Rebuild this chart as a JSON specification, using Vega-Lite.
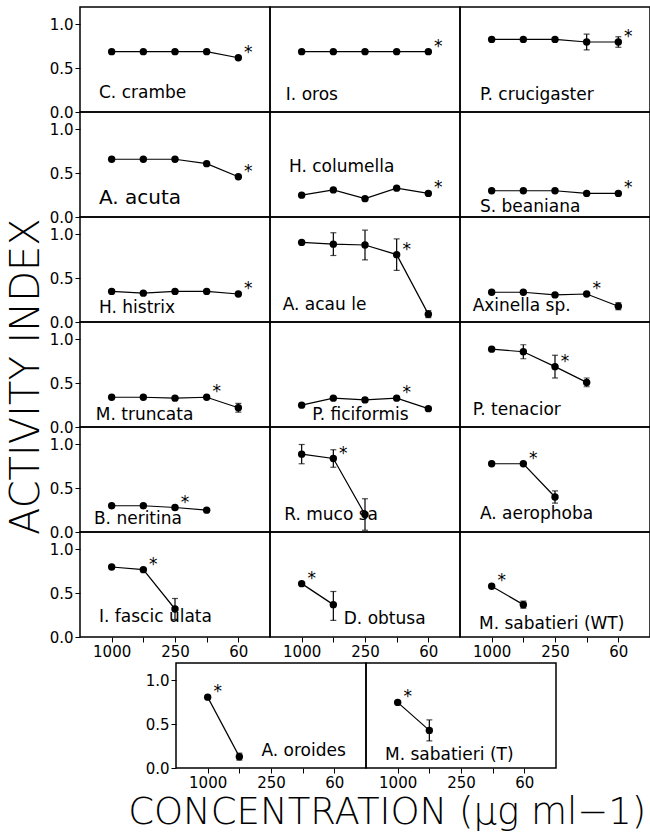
{
  "$schema": "https://vega.github.io/schema/vega-lite/v6.json",
  "background": "white",
  "padding": {"left": 7, "top": 6, "right": 0, "bottom": 0},
  "title": {"text": "ACTIVITY INDEX", "orient": "left", "anchor": "middle", "fontSize": 40, "font": "DejaVu Sans", "fontWeight": 200, "color": "black", "offset": 2, "dx": 42},
  "datasets": {"d": [
    {"g":"t","r":1,"c":1,"k":"p","x":1000,"y":0.69},
    {"g":"t","r":1,"c":1,"k":"p","x":500,"y":0.69},
    {"g":"t","r":1,"c":1,"k":"p","x":250,"y":0.69},
    {"g":"t","r":1,"c":1,"k":"p","x":125,"y":0.69},
    {"g":"t","r":1,"c":1,"k":"p","x":62.5,"y":0.62,"st":1},
    {"g":"t","r":1,"c":1,"k":"l","x":1320,"y":0.22,"t":"C. crambe"},
    {"g":"t","r":1,"c":2,"k":"p","x":1000,"y":0.69},
    {"g":"t","r":1,"c":2,"k":"p","x":500,"y":0.69},
    {"g":"t","r":1,"c":2,"k":"p","x":250,"y":0.69},
    {"g":"t","r":1,"c":2,"k":"p","x":125,"y":0.69},
    {"g":"t","r":1,"c":2,"k":"p","x":62.5,"y":0.69,"st":1},
    {"g":"t","r":1,"c":2,"k":"l","x":1414,"y":0.2,"t":"I. oros"},
    {"g":"t","r":1,"c":3,"k":"p","x":1000,"y":0.83},
    {"g":"t","r":1,"c":3,"k":"p","x":500,"y":0.83},
    {"g":"t","r":1,"c":3,"k":"p","x":250,"y":0.83},
    {"g":"t","r":1,"c":3,"k":"p","x":125,"y":0.8,"lo":0.71,"hi":0.89},
    {"g":"t","r":1,"c":3,"k":"p","x":62.5,"y":0.8,"lo":0.74,"hi":0.86,"st":1},
    {"g":"t","r":1,"c":3,"k":"l","x":1292,"y":0.19,"t":"P. crucigaster"},
    {"g":"t","r":2,"c":1,"k":"p","x":1000,"y":0.66},
    {"g":"t","r":2,"c":1,"k":"p","x":500,"y":0.66},
    {"g":"t","r":2,"c":1,"k":"p","x":250,"y":0.66},
    {"g":"t","r":2,"c":1,"k":"p","x":125,"y":0.61},
    {"g":"t","r":2,"c":1,"k":"p","x":62.5,"y":0.46,"st":1},
    {"g":"t","r":2,"c":1,"k":"l","x":1320,"y":0.22,"t":"A. acuta"},
    {"g":"t","r":2,"c":2,"k":"p","x":1000,"y":0.25},
    {"g":"t","r":2,"c":2,"k":"p","x":500,"y":0.31},
    {"g":"t","r":2,"c":2,"k":"p","x":250,"y":0.21},
    {"g":"t","r":2,"c":2,"k":"p","x":125,"y":0.33},
    {"g":"t","r":2,"c":2,"k":"p","x":62.5,"y":0.27,"st":1},
    {"g":"t","r":2,"c":2,"k":"l","x":1320,"y":0.57,"t":"H. columella"},
    {"g":"t","r":2,"c":3,"k":"p","x":1000,"y":0.3},
    {"g":"t","r":2,"c":3,"k":"p","x":500,"y":0.3},
    {"g":"t","r":2,"c":3,"k":"p","x":250,"y":0.3},
    {"g":"t","r":2,"c":3,"k":"p","x":125,"y":0.27},
    {"g":"t","r":2,"c":3,"k":"p","x":62.5,"y":0.27,"st":1},
    {"g":"t","r":2,"c":3,"k":"l","x":1292,"y":0.11,"t":"S. beaniana"},
    {"g":"t","r":3,"c":1,"k":"p","x":1000,"y":0.35},
    {"g":"t","r":3,"c":1,"k":"p","x":500,"y":0.33},
    {"g":"t","r":3,"c":1,"k":"p","x":250,"y":0.35},
    {"g":"t","r":3,"c":1,"k":"p","x":125,"y":0.35},
    {"g":"t","r":3,"c":1,"k":"p","x":62.5,"y":0.32,"st":1},
    {"g":"t","r":3,"c":1,"k":"l","x":1320,"y":0.16,"t":"H. histrix"},
    {"g":"t","r":3,"c":2,"k":"p","x":1000,"y":0.91},
    {"g":"t","r":3,"c":2,"k":"p","x":500,"y":0.89,"lo":0.76,"hi":1.02},
    {"g":"t","r":3,"c":2,"k":"p","x":250,"y":0.88,"lo":0.71,"hi":1.05},
    {"g":"t","r":3,"c":2,"k":"p","x":125,"y":0.77,"lo":0.59,"hi":0.95,"st":1},
    {"g":"t","r":3,"c":2,"k":"p","x":62.5,"y":0.09,"lo":0.05,"hi":0.13},
    {"g":"t","r":3,"c":2,"k":"l","x":1516,"y":0.2,"t":"A. acau le"},
    {"g":"t","r":3,"c":3,"k":"p","x":1000,"y":0.34},
    {"g":"t","r":3,"c":3,"k":"p","x":500,"y":0.34},
    {"g":"t","r":3,"c":3,"k":"p","x":250,"y":0.31},
    {"g":"t","r":3,"c":3,"k":"p","x":125,"y":0.32,"st":1},
    {"g":"t","r":3,"c":3,"k":"p","x":62.5,"y":0.18,"lo":0.14,"hi":0.22},
    {"g":"t","r":3,"c":3,"k":"l","x":1516,"y":0.18,"t":"Axinella sp."},
    {"g":"t","r":4,"c":1,"k":"p","x":1000,"y":0.34},
    {"g":"t","r":4,"c":1,"k":"p","x":500,"y":0.34},
    {"g":"t","r":4,"c":1,"k":"p","x":250,"y":0.33},
    {"g":"t","r":4,"c":1,"k":"p","x":125,"y":0.34,"st":1},
    {"g":"t","r":4,"c":1,"k":"p","x":62.5,"y":0.22,"lo":0.17,"hi":0.27},
    {"g":"t","r":4,"c":1,"k":"l","x":1414,"y":0.14,"t":"M. truncata"},
    {"g":"t","r":4,"c":2,"k":"p","x":1000,"y":0.25},
    {"g":"t","r":4,"c":2,"k":"p","x":500,"y":0.33},
    {"g":"t","r":4,"c":2,"k":"p","x":250,"y":0.31},
    {"g":"t","r":4,"c":2,"k":"p","x":125,"y":0.33,"st":1},
    {"g":"t","r":4,"c":2,"k":"p","x":62.5,"y":0.21},
    {"g":"t","r":4,"c":2,"k":"l","x":795,"y":0.14,"t":"P. ficiformis"},
    {"g":"t","r":4,"c":3,"k":"p","x":1000,"y":0.89},
    {"g":"t","r":4,"c":3,"k":"p","x":500,"y":0.86,"lo":0.78,"hi":0.94},
    {"g":"t","r":4,"c":3,"k":"p","x":250,"y":0.69,"lo":0.56,"hi":0.82,"st":1},
    {"g":"t","r":4,"c":3,"k":"p","x":125,"y":0.51,"lo":0.46,"hi":0.56},
    {"g":"t","r":4,"c":3,"k":"l","x":1516,"y":0.2,"t":"P. tenacior"},
    {"g":"t","r":5,"c":1,"k":"p","x":1000,"y":0.3},
    {"g":"t","r":5,"c":1,"k":"p","x":500,"y":0.3},
    {"g":"t","r":5,"c":1,"k":"p","x":250,"y":0.28,"st":1},
    {"g":"t","r":5,"c":1,"k":"p","x":125,"y":0.25},
    {"g":"t","r":5,"c":1,"k":"l","x":1474,"y":0.15,"t":"B. neritina"},
    {"g":"t","r":5,"c":2,"k":"p","x":1000,"y":0.89,"lo":0.78,"hi":1.0},
    {"g":"t","r":5,"c":2,"k":"p","x":500,"y":0.84,"lo":0.74,"hi":0.94,"st":1},
    {"g":"t","r":5,"c":2,"k":"p","x":250,"y":0.2,"lo":0.02,"hi":0.38},
    {"g":"t","r":5,"c":2,"k":"l","x":1464,"y":0.2,"t":"R. muco sa"},
    {"g":"t","r":5,"c":3,"k":"p","x":1000,"y":0.78},
    {"g":"t","r":5,"c":3,"k":"p","x":500,"y":0.78,"st":1},
    {"g":"t","r":5,"c":3,"k":"p","x":250,"y":0.4,"lo":0.33,"hi":0.47},
    {"g":"t","r":5,"c":3,"k":"l","x":1292,"y":0.21,"t":"A. aerophoba"},
    {"g":"t","r":6,"c":1,"k":"p","x":1000,"y":0.8},
    {"g":"t","r":6,"c":1,"k":"p","x":500,"y":0.77,"st":1},
    {"g":"t","r":6,"c":1,"k":"p","x":250,"y":0.32,"lo":0.2,"hi":0.44},
    {"g":"t","r":6,"c":1,"k":"l","x":1320,"y":0.23,"t":"I. fascic ulata"},
    {"g":"t","r":6,"c":2,"k":"p","x":1000,"y":0.61,"st":1},
    {"g":"t","r":6,"c":2,"k":"p","x":500,"y":0.37,"lo":0.19,"hi":0.52},
    {"g":"t","r":6,"c":2,"k":"l","x":398,"y":0.21,"t":"D. obtusa"},
    {"g":"t","r":6,"c":3,"k":"p","x":1000,"y":0.58,"st":1},
    {"g":"t","r":6,"c":3,"k":"p","x":500,"y":0.37,"lo":0.33,"hi":0.41},
    {"g":"t","r":6,"c":3,"k":"l","x":1320,"y":0.15,"t":"M. sabatieri (WT)"},
    {"g":"b","c":1,"k":"p","x":1000,"y":0.81,"st":1},
    {"g":"b","c":1,"k":"p","x":500,"y":0.13,"lo":0.09,"hi":0.17},
    {"g":"b","c":1,"k":"l","x":308,"y":0.19,"t":"A. oroides"},
    {"g":"b","c":2,"k":"p","x":1000,"y":0.75,"st":1},
    {"g":"b","c":2,"k":"p","x":500,"y":0.43,"lo":0.31,"hi":0.55},
    {"g":"b","c":2,"k":"l","x":1320,"y":0.15,"t":"M. sabatieri (T)"}
  ]},
  "vconcat": [
    {
      "data": {"name": "d"},
      "transform": [{"filter": "datum.g == 't'"}],
      "facet": {
        "row": {"field": "r", "type": "ordinal", "header": null},
        "column": {"field": "c", "type": "ordinal", "header": null}
      },
      "spacing": 0,
      "bounds": "flush",
      "spec": {
        "width": 190,
        "height": 105,
        "layer": [
          {"transform": [{"filter": "datum.k == 'p'"}],
           "mark": {"type": "line", "color": "black", "strokeWidth": 1.2},
           "encoding": {
             "x": {"field": "x", "type": "quantitative", "title": null,
                   "scale": {"type": "log", "domain": [31.25, 2000], "reverse": true, "nice": false},
                   "axis": {"values": [1000, 500, 250, 125, 62.5], "labelExpr": "datum.value == 1000 ? '1000' : datum.value == 250 ? '250' : datum.value == 62.5 ? '60' : ''", "labelOverlap": false, "labelFlush": false}},
             "y": {"field": "y", "type": "quantitative", "title": null,
                   "scale": {"domain": [0, 1.2], "nice": false},
                   "axis": {"values": [0, 0.5, 1], "format": ".1f", "labelOverlap": false, "labelFlush": false}}
           }},
          {"transform": [{"filter": "isValid(datum.lo)"}],
           "mark": {"type": "rule", "color": "black", "strokeWidth": 1.2},
           "encoding": {
             "x": {"field": "x", "type": "quantitative", "title": null},
             "y": {"field": "lo", "type": "quantitative", "title": null},
             "y2": {"field": "hi"}
           }},
          {"transform": [{"filter": "isValid(datum.lo)"}],
           "mark": {"type": "tick", "orient": "horizontal", "color": "black", "thickness": 1.2, "size": 6},
           "encoding": {
             "x": {"field": "x", "type": "quantitative", "title": null},
             "y": {"field": "lo", "type": "quantitative", "title": null}
           }},
          {"transform": [{"filter": "isValid(datum.hi)"}],
           "mark": {"type": "tick", "orient": "horizontal", "color": "black", "thickness": 1.2, "size": 6},
           "encoding": {
             "x": {"field": "x", "type": "quantitative", "title": null},
             "y": {"field": "hi", "type": "quantitative", "title": null}
           }},
          {"transform": [{"filter": "datum.k == 'p'"}],
           "mark": {"type": "point", "filled": true, "color": "black", "size": 55, "opacity": 1},
           "encoding": {
             "x": {"field": "x", "type": "quantitative", "title": null},
             "y": {"field": "y", "type": "quantitative", "title": null}
           }},
          {"transform": [{"filter": "datum.st == 1"}],
           "mark": {"type": "text", "text": "*", "dx": 10, "dy": -5, "fontSize": 17, "fill": "black"},
           "encoding": {
             "x": {"field": "x", "type": "quantitative", "title": null},
             "y": {"field": "y", "type": "quantitative", "title": null}
           }},
          {"transform": [{"filter": "datum.k == 'l'"}],
           "mark": {"type": "text", "align": "left", "baseline": "middle", "fill": "black"},
           "encoding": {
             "x": {"field": "x", "type": "quantitative", "title": null},
             "y": {"field": "y", "type": "quantitative", "title": null},
             "text": {"field": "t"},
             "size": {"condition": {"test": "datum.t == 'A. acuta'", "value": 20}, "value": 17}
           }}
        ]
      }
    },
    {
      "hconcat": [
        {
          "data": {"values": []},
          "width": 48,
          "height": 105,
          "view": {"stroke": null},
          "mark": "point"
        },
        {
          "data": {"name": "d"},
          "transform": [{"filter": "datum.g == 'b'"}],
          "facet": {
            "column": {"field": "c", "type": "ordinal", "header": null}
          },
          "spacing": 0,
          "bounds": "flush",
          "title": {"text": "CONCENTRATION (μg ml−1)", "orient": "bottom", "anchor": "start", "fontSize": 37, "font": "DejaVu Sans", "fontWeight": 200, "color": "black", "offset": 5, "dx": -17},
          "spec": {
            "width": 190,
            "height": 105,
            "layer": [
              {"transform": [{"filter": "datum.k == 'p'"}],
               "mark": {"type": "line", "color": "black", "strokeWidth": 1.2},
               "encoding": {
                 "x": {"field": "x", "type": "quantitative", "title": null,
                       "scale": {"type": "log", "domain": [31.25, 2000], "reverse": true, "nice": false},
                       "axis": {"values": [1000, 500, 250, 125, 62.5], "labelExpr": "datum.value == 1000 ? '1000' : datum.value == 250 ? '250' : datum.value == 62.5 ? '60' : ''", "labelOverlap": false, "labelFlush": false}},
                 "y": {"field": "y", "type": "quantitative", "title": null,
                       "scale": {"domain": [0, 1.2], "nice": false},
                       "axis": {"values": [0, 0.5, 1], "format": ".1f", "labelOverlap": false, "labelFlush": false}}
               }},
              {"transform": [{"filter": "isValid(datum.lo)"}],
               "mark": {"type": "rule", "color": "black", "strokeWidth": 1.2},
               "encoding": {
                 "x": {"field": "x", "type": "quantitative", "title": null},
                 "y": {"field": "lo", "type": "quantitative", "title": null},
                 "y2": {"field": "hi"}
               }},
              {"transform": [{"filter": "isValid(datum.lo)"}],
               "mark": {"type": "tick", "orient": "horizontal", "color": "black", "thickness": 1.2, "size": 6},
               "encoding": {
                 "x": {"field": "x", "type": "quantitative", "title": null},
                 "y": {"field": "lo", "type": "quantitative", "title": null}
               }},
              {"transform": [{"filter": "isValid(datum.hi)"}],
               "mark": {"type": "tick", "orient": "horizontal", "color": "black", "thickness": 1.2, "size": 6},
               "encoding": {
                 "x": {"field": "x", "type": "quantitative", "title": null},
                 "y": {"field": "hi", "type": "quantitative", "title": null}
               }},
              {"transform": [{"filter": "datum.k == 'p'"}],
               "mark": {"type": "point", "filled": true, "color": "black", "size": 55, "opacity": 1},
               "encoding": {
                 "x": {"field": "x", "type": "quantitative", "title": null},
                 "y": {"field": "y", "type": "quantitative", "title": null}
               }},
              {"transform": [{"filter": "datum.st == 1"}],
               "mark": {"type": "text", "text": "*", "dx": 10, "dy": -5, "fontSize": 17, "fill": "black"},
               "encoding": {
                 "x": {"field": "x", "type": "quantitative", "title": null},
                 "y": {"field": "y", "type": "quantitative", "title": null}
               }},
              {"transform": [{"filter": "datum.k == 'l'"}],
               "mark": {"type": "text", "align": "left", "baseline": "middle", "fill": "black"},
               "encoding": {
                 "x": {"field": "x", "type": "quantitative", "title": null},
                 "y": {"field": "y", "type": "quantitative", "title": null},
                 "text": {"field": "t"},
                 "size": {"value": 17}
               }}
            ]
          }
        }
      ],
      "spacing": 0
    }
  ],
  "spacing": 3,
  "config": {
    "font": "DejaVu Sans",
    "view": {"stroke": "black", "strokeWidth": 1.5},
    "axis": {"domain": false, "grid": false, "ticks": true, "tickColor": "black", "tickWidth": 1, "tickSize": 5, "labelFont": "DejaVu Sans", "labelFontSize": 15, "labelColor": "black", "labelPadding": 2}
  }
}
